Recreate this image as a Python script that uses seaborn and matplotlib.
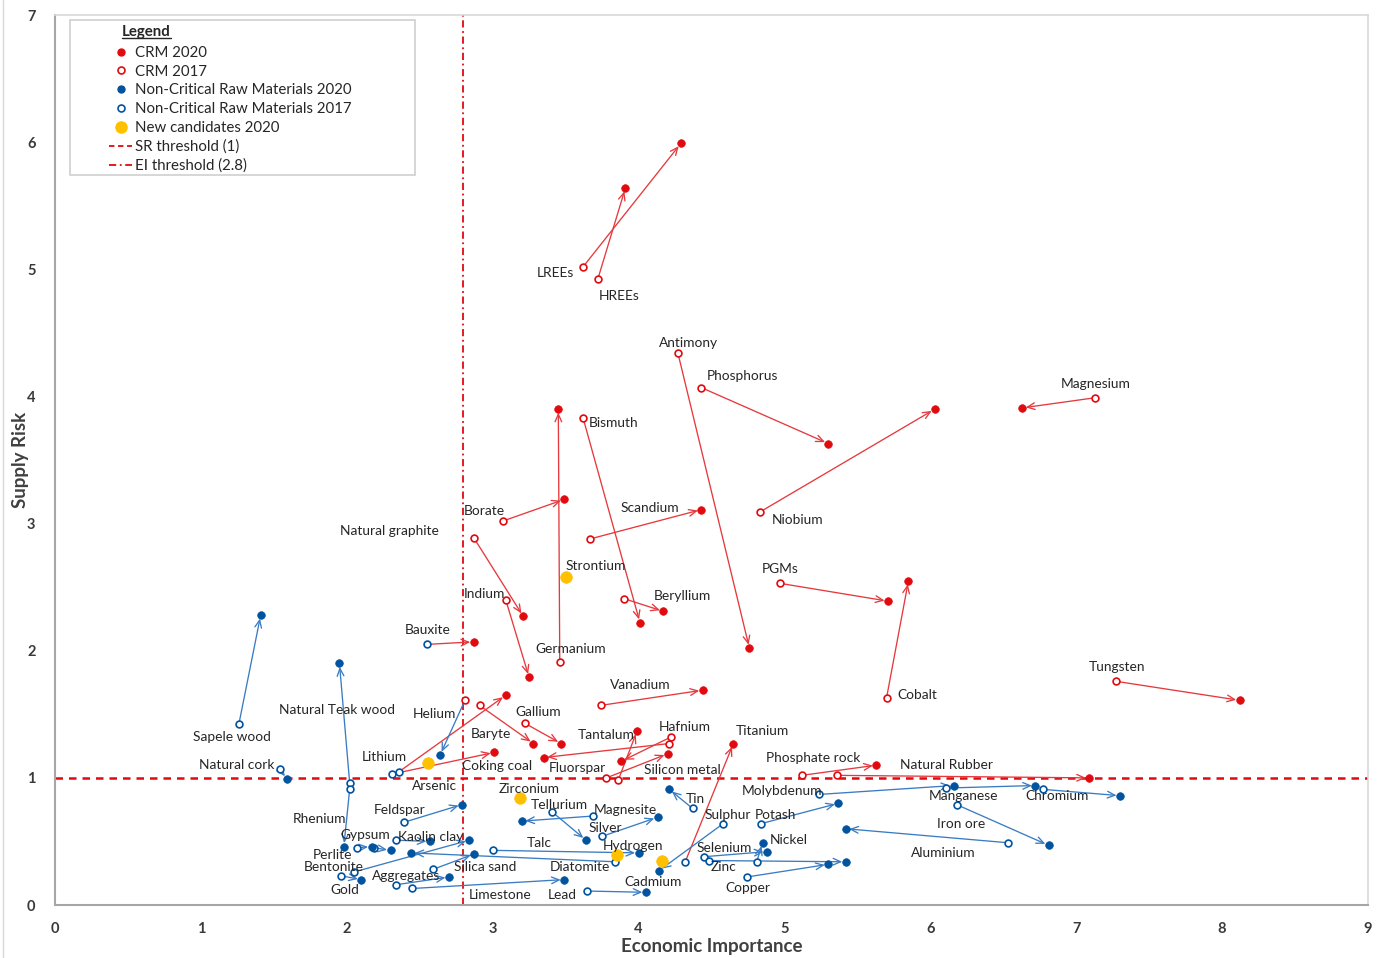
import matplotlib
matplotlib.use("Agg")
import matplotlib.pyplot as plt
from matplotlib.lines import Line2D
import seaborn as sns
import pandas as pd

# ---- data: (economic importance, supply risk) per raw material, 2017 -> 2020
materials = [
    "LREEs", "HREEs", "Antimony", "Phosphorus", "Magnesium", "Niobium", "Bismuth",
    "Germanium", "Borate", "Natural graphite", "Indium", "Scandium", "Beryllium",
    "PGMs", "Cobalt", "Tungsten", "Vanadium", "Baryte", "Gallium", "Tantalum",
    "Hafnium", "Fluorspar", "Silicon metal", "Phosphate rock", "Natural Rubber",
    "Coking coal", "Lithium", "Bauxite", "Titanium", "Helium",
    "Sapele wood", "Natural cork", "Natural Teak wood", "Rhenium", "Feldspar",
    "Perlite", "Gypsum", "Kaolin clay", "Diatomite", "Silica sand", "Bentonite",
    "Talc", "Gold", "Aggregates", "Limestone", "Tellurium", "Magnesite", "Silver",
    "Tin", "Lead", "Sulphur", "Potash", "Molybdenum", "Manganese", "Chromium",
    "Iron ore", "Aluminium", "Nickel", "Selenium", "Zinc", "Copper",
]
ei_2017 = [
    3.62, 3.72, 4.27, 4.43, 7.13, 4.83, 3.62,
    3.46, 3.07, 2.87, 3.09, 3.67, 3.90,
    4.97, 5.70, 7.27, 3.74, 2.91, 3.22, 3.86,
    4.22, 4.21, 3.78, 5.12, 5.36,
    2.31, 2.36, 2.55, 4.32, 2.81,
    1.26, 1.54, 2.02, 2.02, 2.39,
    2.07, 2.19, 2.34, 3.84, 2.59, 2.05,
    3.00, 1.96, 2.34, 2.45, 3.41, 3.69, 3.75,
    4.37, 3.65, 4.58, 4.84, 5.24, 6.11, 6.77,
    6.18, 6.53, 4.81, 4.45, 4.48, 4.74,
]
sr_2017 = [
    5.02, 4.92, 4.34, 4.07, 3.99, 3.09, 3.83,
    1.91, 3.02, 2.89, 2.40, 2.88, 2.41,
    2.53, 1.63, 1.76, 1.57, 1.57, 1.43, 0.98,
    1.32, 1.27, 1.00, 1.02, 1.02,
    1.03, 1.05, 2.05, 0.34, 1.61,
    1.42, 1.07, 0.96, 0.91, 0.65,
    0.45, 0.45, 0.51, 0.34, 0.28, 0.26,
    0.43, 0.23, 0.16, 0.13, 0.73, 0.70, 0.54,
    0.76, 0.11, 0.64, 0.64, 0.87, 0.92, 0.91,
    0.79, 0.49, 0.34, 0.38, 0.35, 0.22,
]
ei_2020 = [
    4.29, 3.91, 4.76, 5.30, 6.63, 6.03, 4.01,
    3.45, 3.49, 3.21, 3.25, 4.43, 4.17,
    5.71, 5.85, 8.12, 4.44, 3.28, 3.47, 3.99,
    3.88, 3.35, 4.20, 5.63, 7.09,
    3.01, 3.09, 2.87, 4.65, 2.64,
    1.41, 1.59, 1.95, 1.98, 2.79,
    2.17, 2.30, 2.57, 2.44, 2.87, 2.84,
    4.00, 2.10, 2.70, 3.49, 3.64, 3.20, 4.13,
    4.21, 4.05, 4.14, 5.37, 6.16, 6.72, 7.30,
    6.81, 5.42, 4.85, 4.88, 5.42, 5.30,
]
sr_2020 = [
    5.99, 5.64, 2.02, 3.63, 3.91, 3.90, 2.22,
    3.90, 3.19, 2.27, 1.79, 3.11, 2.31,
    2.39, 2.55, 1.61, 1.69, 1.27, 1.27, 1.37,
    1.13, 1.16, 1.19, 1.10, 1.00,
    1.20, 1.65, 2.07, 1.27, 1.18,
    2.28, 0.99, 1.90, 0.46, 0.79,
    0.46, 0.43, 0.50, 0.41, 0.40, 0.51,
    0.41, 0.20, 0.22, 0.20, 0.51, 0.66, 0.69,
    0.91, 0.10, 0.27, 0.80, 0.94, 0.94, 0.86,
    0.47, 0.60, 0.49, 0.42, 0.34, 0.32,
]
critical_2017 = [True] * 25 + [False, False, False, False, True] + [False] * 31
critical_2020 = [True] * 29 + [False] + [False] * 31

new_candidates = ["Arsenic", "Strontium", "Zirconium", "Hydrogen", "Cadmium"]
new_ei = [2.56, 3.50, 3.19, 3.85, 4.16]
new_sr = [1.12, 2.58, 0.84, 0.39, 0.35]

SR_THRESHOLD = 1.0
EI_THRESHOLD = 2.8

# ---- label anchors (data coordinates), kept apart from the values
label_at = {
    "LREEs": (3.43, 4.97), "HREEs": (3.87, 4.79), "Antimony": (4.34, 4.42),
    "Phosphorus": (4.71, 4.16), "Magnesium": (7.13, 4.10), "Bismuth": (3.83, 3.79),
    "Borate": (2.945, 3.10), "Scandium": (4.08, 3.12), "Niobium": (5.09, 3.03),
    "Natural graphite": (2.29, 2.94), "Strontium": (3.71, 2.67), "PGMs": (4.97, 2.64),
    "Indium": (2.945, 2.45), "Beryllium": (4.30, 2.43), "Bauxite": (2.555, 2.16),
    "Germanium": (3.535, 2.01), "Vanadium": (4.01, 1.73), "Tungsten": (7.28, 1.87),
    "Cobalt": (5.91, 1.65), "Natural Teak wood": (1.93, 1.53), "Helium": (2.60, 1.50),
    "Gallium": (3.315, 1.52), "Sapele wood": (1.21, 1.32), "Baryte": (2.99, 1.345),
    "Tantalum": (3.775, 1.34), "Hafnium": (4.32, 1.40), "Titanium": (4.85, 1.37),
    "Lithium": (2.26, 1.165), "Phosphate rock": (5.20, 1.16), "Natural cork": (1.245, 1.10),
    "Coking coal": (3.03, 1.095), "Fluorspar": (3.58, 1.08), "Silicon metal": (4.30, 1.06),
    "Natural Rubber": (6.11, 1.10), "Arsenic": (2.60, 0.936), "Zirconium": (3.25, 0.913),
    "Molybdenum": (4.98, 0.897), "Manganese": (6.23, 0.858), "Chromium": (6.87, 0.858),
    "Tin": (4.39, 0.834), "Tellurium": (3.46, 0.787), "Feldspar": (2.36, 0.747),
    "Magnesite": (3.91, 0.747), "Sulphur": (4.615, 0.708), "Potash": (4.94, 0.708),
    "Rhenium": (1.81, 0.677), "Iron ore": (6.21, 0.637), "Silver": (3.775, 0.606),
    "Gypsum": (2.13, 0.551), "Kaolin clay": (2.575, 0.535), "Nickel": (5.03, 0.511),
    "Talc": (3.32, 0.488), "Hydrogen": (3.96, 0.464), "Selenium": (4.585, 0.448),
    "Aluminium": (6.09, 0.409), "Perlite": (1.90, 0.393), "Bentonite": (1.91, 0.299),
    "Silica sand": (2.95, 0.299), "Diatomite": (3.60, 0.299), "Zinc": (4.58, 0.299),
    "Aggregates": (2.41, 0.228), "Cadmium": (4.10, 0.181), "Gold": (1.99, 0.118),
    "Copper": (4.75, 0.134), "Limestone": (3.05, 0.079), "Lead": (3.48, 0.079),
}

# ---- colours
RED = "#E10A0F"
RED_LINE = "#E5393E"
BLUE = "#00539F"
BLUE_LINE = "#3A7CC3"
GOLD = "#FFC000"
TEXT = "#262626"
AXIS_GREY = "#BFBFBF"

df = pd.DataFrame({
    "material": materials,
    "ei_2017": ei_2017, "sr_2017": sr_2017,
    "ei_2020": ei_2020, "sr_2020": sr_2020,
    "crit_2017": critical_2017, "crit_2020": critical_2020,
})
cand = pd.DataFrame({"material": new_candidates, "ei": new_ei, "sr": new_sr})

sns.set_theme(style="white")
plt.rcParams["font.family"] = ["Lato", "DejaVu Sans"]

fig = plt.figure(figsize=(13.81, 9.58), dpi=100)
ax = fig.add_axes([0.0398, 0.0553, 0.9508, 0.929])
ax.set_xlim(0, 9)
ax.set_ylim(0, 7)

# thresholds
ax.axhline(SR_THRESHOLD, color=RED, lw=1.8, ls=(0, (3, 2.4)), zorder=1)
ax.axvline(EI_THRESHOLD, color=RED, lw=1.3, ls=(0, (4, 2, 1, 2)), zorder=1)

# 2017 -> 2020 movement arrows, coloured by 2020 status
for r in df.itertuples():
    col = RED_LINE if r.crit_2020 else BLUE_LINE
    ax.annotate("", xy=(r.ei_2020, r.sr_2020), xytext=(r.ei_2017, r.sr_2017),
                arrowprops=dict(arrowstyle="->,head_length=0.45,head_width=0.2",
                                color=col, lw=0.95, shrinkA=2, shrinkB=2.5),
                zorder=2)

# 2017 positions: open circles
for crit, col in [(True, RED), (False, BLUE)]:
    sub = df[df["crit_2017"] == crit]
    sns.scatterplot(data=sub, x="ei_2017", y="sr_2017", ax=ax, s=24,
                    facecolor="white", edgecolor=col, linewidth=1.2, zorder=3)

# 2020 positions: filled dots
for crit, col in [(True, RED), (False, BLUE)]:
    sub = df[df["crit_2020"] == crit]
    sns.scatterplot(data=sub, x="ei_2020", y="sr_2020", ax=ax, s=30,
                    color=col, edgecolor=col, linewidth=0.5, zorder=4)

# materials assessed for the first time in 2020
sns.scatterplot(data=cand, x="ei", y="sr", ax=ax, s=70, color=GOLD,
                edgecolor=GOLD, linewidth=0.5, zorder=4)

for name, (lx, ly) in label_at.items():
    ax.text(lx, ly, name, ha="center", va="center", fontsize=9.9,
            color=TEXT, zorder=5)

# axes styling
ax.set_xticks(range(0, 10))
ax.set_yticks(range(0, 8))
ax.tick_params(axis="both", which="major", length=4, width=1, color=AXIS_GREY,
               labelsize=10.5, labelcolor="#3A3A3A", direction="out")
ax.tick_params(axis="x", pad=8)
ax.tick_params(axis="y", pad=10)
for lab in ax.get_xticklabels() + ax.get_yticklabels():
    lab.set_fontweight("bold")
for side in ["left", "bottom"]:
    ax.spines[side].set_color("#A6A6A6")
    ax.spines[side].set_linewidth(1.5)
for side in ["top", "right"]:
    ax.spines[side].set_color("#D9D9D9")
    ax.spines[side].set_linewidth(1.2)
ax.set_xlabel("")
ax.set_ylabel("")
fig.text(0.5155, 0.0125, "Economic Importance", ha="center", va="center",
         fontsize=13.5, fontweight="bold", color="#404040")
fig.text(0.0150, 0.52, "Supply Risk", ha="center", va="center", rotation=90,
         fontsize=13.5, fontweight="bold", color="#404040")

# legend
handles = [
    Line2D([], [], ls="none", marker="o", ms=5, mfc=RED, mec=RED),
    Line2D([], [], ls="none", marker="o", ms=5, mfc="white", mec=RED, mew=1.2),
    Line2D([], [], ls="none", marker="o", ms=5, mfc=BLUE, mec=BLUE),
    Line2D([], [], ls="none", marker="o", ms=5, mfc="white", mec=BLUE, mew=1.2),
    Line2D([], [], ls="none", marker="o", ms=8, mfc=GOLD, mec=GOLD),
    Line2D([], [], color=RED, lw=1.3, ls=(0, (3, 2))),
    Line2D([], [], color=RED, lw=1.3, ls=(0, (4, 2, 1, 2))),
]
labels = ["CRM 2020", "CRM 2017", "Non-Critical Raw Materials 2020",
          "Non-Critical Raw Materials 2017", "New candidates 2020",
          "SR threshold (1)", "EI threshold (2.8)"]
leg = ax.legend(handles, labels, loc="upper left", bbox_to_anchor=(0.0411, 0.9652),
                frameon=False, fontsize=10.8, handlelength=1.55, handletextpad=0.2,
                labelspacing=0.315, borderpad=0, borderaxespad=0)
for t in leg.get_texts():
    t.set_color(TEXT)
ax.add_patch(plt.Rectangle((0.0114, 0.8202), 0.2628, 0.1742, transform=ax.transAxes,
                           facecolor="white", edgecolor="#D0D0D0", lw=1.2, zorder=6))
leg.set_zorder(7)
title = ax.text(0.0510, 0.9814, "Legend", transform=ax.transAxes, ha="left",
                va="center", fontsize=10.8, fontweight="bold", color=TEXT, zorder=8)

# thin frame line at the left edge of the figure
fig.add_artist(Line2D([3 / 1381, 3 / 1381], [0, 1], color="#D9D9D9", lw=1,
                      transform=fig.transFigure))

fig.canvas.draw()
bb = title.get_window_extent()
inv = fig.transFigure.inverted()
(x0, y0), (x1, _) = inv.transform([(bb.x0, bb.y0 + 1), (bb.x1, bb.y0)])
fig.add_artist(Line2D([x0, x1], [y0, y0], color=TEXT, lw=1.0,
                      transform=fig.transFigure, zorder=9))

fig.savefig("out.png", dpi=100)
